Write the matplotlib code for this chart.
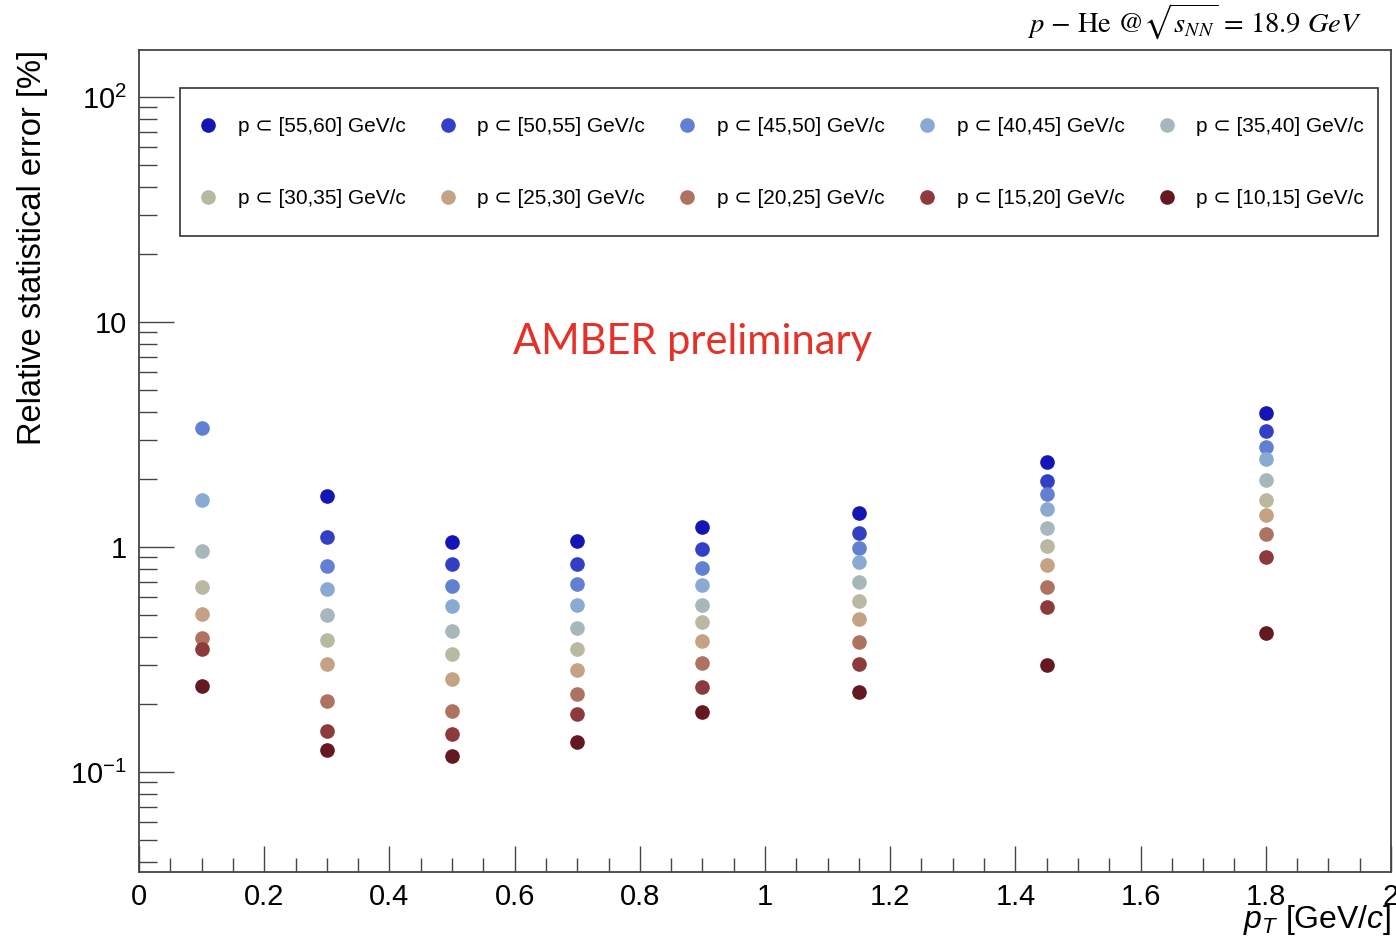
import numpy as np
import matplotlib
matplotlib.use("Agg")
import matplotlib.pyplot as plt
from matplotlib.patches import Rectangle
from matplotlib.ticker import FixedLocator, FixedFormatter, LogLocator, NullFormatter, MultipleLocator

plt.rcParams['font.family'] = ['Liberation Sans', 'DejaVu Sans']
plt.rcParams['mathtext.fontset'] = 'custom'
plt.rcParams['mathtext.rm'] = 'Liberation Sans'
plt.rcParams['mathtext.it'] = 'Liberation Sans:italic'

# pT bin centres [GeV/c]
pt = [0.1, 0.3, 0.5, 0.7, 0.9, 1.15, 1.45, 1.8]

# relative statistical error [%] for each momentum bin
nan = np.nan
p55_60 = [nan, 1.68, 1.05, 1.07, 1.23, 1.42, 2.39, 3.94]
p50_55 = [nan, 1.11, 0.838, 0.846, 0.977, 1.16, 1.97, 3.28]
p45_50 = [3.39, 0.826, 0.673, 0.687, 0.807, 0.99, 1.72, 2.79]
p40_45 = [1.62, 0.651, 0.548, 0.554, 0.680, 0.855, 1.48, 2.47]
p35_40 = [0.96, 0.497, 0.424, 0.438, 0.554, 0.697, 1.215, 1.99]
p30_35 = [0.664, 0.387, 0.335, 0.353, 0.463, 0.574, 1.013, 1.62]
p25_30 = [0.504, 0.301, 0.26, 0.285, 0.382, 0.479, 0.834, 1.387]
p20_25 = [0.395, 0.207, 0.187, 0.222, 0.305, 0.377, 0.664, 1.14]
p15_20 = [0.353, 0.153, 0.148, 0.181, 0.240, 0.301, 0.541, 0.903]
p10_15 = [0.241, 0.125, 0.118, 0.136, 0.185, 0.227, 0.298, 0.414]

series = [p55_60, p50_55, p45_50, p40_45, p35_40,
          p30_35, p25_30, p20_25, p15_20, p10_15]
bins = ["[55,60]", "[50,55]", "[45,50]", "[40,45]", "[35,40]",
        "[30,35]", "[25,30]", "[20,25]", "[15,20]", "[10,15]"]
colors = ['#1515b5', '#3340c6', '#6280d2', '#8aaad2', '#a6b8bc',
          '#b9b8a0', '#c4a283', '#ae7260', '#8c3a3c', '#641820']

yticks = [0.1, 1, 10, 100]
ytick_labels = ["$10^{-1}$", "1", "10", "$10^{2}$"]

fig = plt.figure(figsize=(13.96, 9.42), dpi=100)
ax = fig.add_axes([0.0996, 0.0743, 0.8968, 0.8726])

handles = []
for vals, b, c in zip(series, bins, colors):
    h, = ax.plot(pt, vals, 'o', ms=9.5, color=c, linestyle='none',
                 label="p \u2282 " + b + " GeV/c")
    handles.append(h)

ax.set_yscale('log')
ax.set_xlim(0, 2)
ax.set_ylim(0.036, 162)

ax.xaxis.set_major_locator(MultipleLocator(0.2))
ax.xaxis.set_minor_locator(MultipleLocator(0.05))
ax.xaxis.set_major_formatter(plt.FuncFormatter(lambda v, p: "%g" % round(v, 2)))
ax.yaxis.set_major_locator(FixedLocator(yticks))
ax.yaxis.set_major_formatter(FixedFormatter(ytick_labels))
ax.yaxis.set_minor_locator(LogLocator(base=10, subs=np.arange(2, 10)))
ax.yaxis.set_minor_formatter(NullFormatter())

edge = '#444444'
for s in ax.spines.values():
    s.set_color(edge)
    s.set_linewidth(1.3)
ax.tick_params(axis='x', which='major', direction='in', length=18.5, width=1,
               color=edge, labelsize=21, pad=8, top=False)
ax.tick_params(axis='x', which='minor', direction='in', length=10, width=1,
               color=edge, top=False)
ax.tick_params(axis='y', which='major', direction='in', length=25, width=1,
               color=edge, labelsize=21, pad=9, right=False)
ax.tick_params(axis='y', which='minor', direction='in', length=13, width=1,
               color=edge, right=False)

ax.set_ylabel("Relative statistical error [%]", fontsize=23.5, loc='top')
ax.yaxis.set_label_coords(-0.073, 1.0)
ax.set_xlabel("$p_{T}$ [GeV/$c$]", fontsize=23, loc='right')
ax.xaxis.set_label_coords(1.0, -0.038)

# legend box drawn separately, entries placed inside it
box = Rectangle((0.0327, 0.7737), 0.9569, 0.1801, transform=ax.transAxes,
                facecolor='white', edgecolor='#333333', linewidth=1.2, zorder=4)
ax.add_patch(box)

# row-major ordering for a 5-column legend
order = [0, 5, 1, 6, 2, 7, 3, 8, 4, 9]
leg = ax.legend([handles[i] for i in order], [handles[i].get_label() for i in order],
                ncol=5, loc='upper left', bbox_to_anchor=(0.0543, 0.9185),
                borderaxespad=0, borderpad=0, fontsize=15, frameon=False,
                handlelength=0.1, handletextpad=1.38, labelspacing=2.55,
                columnspacing=1.97)
leg.set_zorder(5)

ax.text(0.4425, 0.6448, "AMBER preliminary", transform=ax.transAxes,
        color='#e53229', fontsize=30, family=['Lato', 'DejaVu Sans'],
        ha='center', va='center')

fig.text(0.9756, 0.977, r"$p$ $-$ He @$\sqrt{s_{NN}}$ = 18.9 $GeV$",
         fontsize=20.5, family='STIXGeneral', math_fontfamily='stix',
         ha='right', va='center')

fig.savefig("out.png", dpi=100)
